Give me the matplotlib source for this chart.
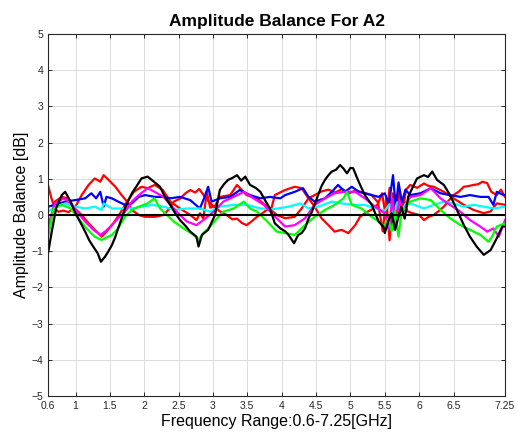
import numpy as np
import matplotlib
matplotlib.use('Agg')
import matplotlib.pyplot as plt

plt.rcParams['font.family'] = ['Liberation Sans', 'DejaVu Sans']

# values (GHz, dB)
f_black = [0.60, 0.66, 0.72, 0.80, 0.85, 0.92, 0.99, 1.07, 1.14, 1.20, 1.26, 1.32, 1.37, 1.43, 1.48, 1.53, 1.58, 1.62, 1.67, 1.72, 1.77, 1.82, 1.89, 1.96, 2.05, 2.14, 2.23, 2.30, 2.38, 2.45, 2.52, 2.60, 2.67, 2.76, 2.79, 2.84, 2.93, 3.03, 3.10, 3.16, 3.22, 3.28, 3.35, 3.41, 3.47, 3.54, 3.62, 3.69, 3.76, 3.83, 3.90, 3.98, 4.05, 4.10, 4.18, 4.24, 4.29, 4.34, 4.39, 4.44, 4.53, 4.58, 4.63, 4.68, 4.73, 4.79, 4.85, 4.90, 4.95, 5.00, 5.04, 5.12, 5.21, 5.31, 5.36, 5.41, 5.48, 5.50, 5.55, 5.60, 5.65, 5.70, 5.74, 5.79, 5.84, 5.91, 5.97, 6.07, 6.13, 6.19, 6.26, 6.36, 6.45, 6.55, 6.65, 6.74, 6.84, 6.94, 7.04, 7.13, 7.21, 7.25]
v_black = [-1.06, -0.40, 0.20, 0.55, 0.64, 0.40, 0.09, -0.20, -0.46, -0.70, -0.88, -1.05, -1.29, -1.15, -1.00, -0.83, -0.60, -0.37, -0.10, 0.18, 0.40, 0.60, 0.80, 1.01, 1.06, 0.92, 0.78, 0.50, 0.28, 0.05, -0.14, -0.30, -0.46, -0.60, -0.87, -0.55, -0.41, 0.00, 0.69, 0.85, 0.97, 1.02, 1.10, 0.95, 1.06, 0.83, 0.75, 0.64, 0.40, 0.18, -0.23, -0.37, -0.45, -0.55, -0.78, -0.55, -0.50, -0.37, -0.10, 0.09, 0.55, 0.80, 0.97, 1.10, 1.20, 1.25, 1.38, 1.28, 1.15, 1.30, 1.29, 0.92, 0.55, 0.28, 0.05, -0.18, -0.32, -0.50, -0.18, 0.05, -0.41, -0.05, 0.23, -0.10, 0.50, 0.78, 1.01, 1.10, 1.05, 1.20, 0.97, 0.83, 0.55, 0.14, -0.28, -0.60, -0.88, -1.10, -0.97, -0.64, -0.32, -0.32]

f_redA = [0.60, 0.65, 0.70, 0.75, 0.82, 0.90, 0.99, 1.09, 1.19, 1.28, 1.36, 1.41, 1.48, 1.58, 1.67, 1.75, 1.82, 1.92, 2.01, 2.16, 2.28, 2.38, 2.43, 2.52, 2.60, 2.67, 2.74, 2.80, 2.90, 3.00, 3.10, 3.20, 3.28, 3.35, 3.42, 3.49, 3.56, 3.64, 3.72, 3.79, 3.85, 3.90, 4.05, 4.19, 4.29, 4.39, 4.48, 4.58, 4.68, 4.77, 4.87, 4.97, 5.07, 5.14, 5.21, 5.31, 5.40, 5.46, 5.52, 5.57, 5.62, 5.67, 5.72, 5.78, 5.83, 5.90, 6.00, 6.07, 6.14, 6.21, 6.28, 6.36, 6.43, 6.50, 6.58, 6.65, 6.72, 6.79, 6.86, 6.92, 6.99, 7.05, 7.13, 7.19, 7.25]
v_redA = [0.83, 0.46, 0.18, 0.09, 0.12, 0.08, 0.20, 0.55, 0.83, 1.01, 0.92, 1.10, 0.97, 0.78, 0.55, 0.37, 0.14, 0.00, -0.05, -0.05, 0.00, 0.20, 0.37, 0.45, 0.60, 0.69, 0.62, 0.72, 0.45, 0.25, 0.10, 0.00, -0.12, -0.10, -0.22, -0.28, -0.18, -0.05, 0.05, 0.15, 0.18, 0.55, 0.69, 0.78, 0.74, 0.46, 0.23, -0.09, -0.28, -0.46, -0.41, -0.50, -0.28, -0.05, 0.05, 0.15, 0.30, 0.60, -0.10, 0.75, -0.40, 0.55, 0.00, 0.40, 0.10, 0.05, 0.00, -0.14, -0.05, 0.00, 0.10, 0.23, 0.40, 0.55, 0.65, 0.78, 0.80, 0.83, 0.85, 0.92, 0.88, 0.64, 0.55, 0.70, 0.50]

f_redB = [0.60, 0.70, 0.80, 0.89, 0.99, 1.09, 1.19, 1.28, 1.38, 1.45, 1.55, 1.65, 1.75, 1.85, 1.96, 2.05, 2.15, 2.27, 2.38, 2.52, 2.67, 2.76, 2.81, 2.86, 2.91, 2.96, 3.03, 3.10, 3.25, 3.35, 3.49, 3.64, 3.79, 3.93, 4.05, 4.19, 4.29, 4.39, 4.48, 4.58, 4.68, 4.78, 4.88, 4.98, 5.08, 5.18, 5.31, 5.40, 5.47, 5.52, 5.57, 5.62, 5.66, 5.71, 5.76, 5.81, 5.87, 5.97, 6.07, 6.14, 6.21, 6.36, 6.50, 6.65, 6.79, 6.94, 7.04, 7.13, 7.25]
v_redB = [-0.55, 0.37, 0.50, 0.46, 0.18, 0.00, -0.23, -0.41, -0.60, -0.46, -0.23, 0.05, 0.37, 0.64, 0.78, 0.74, 0.83, 0.69, 0.37, 0.18, 0.00, -0.14, 0.05, -0.10, 0.64, 0.20, 0.25, 0.50, 0.55, 0.83, 0.55, 0.46, 0.23, 0.00, -0.09, -0.05, 0.18, 0.46, 0.55, 0.65, 0.70, 0.62, 0.72, 0.60, 0.68, 0.62, 0.55, 0.35, -0.45, 0.45, -0.70, 0.60, -0.30, 0.70, 0.10, 0.70, 0.83, 0.75, 0.87, 0.80, 0.78, 0.64, 0.46, 0.28, 0.14, 0.05, 0.10, 0.32, 0.28]

f_blue = [0.60, 0.70, 0.85, 0.99, 1.14, 1.23, 1.30, 1.36, 1.41, 1.45, 1.53, 1.62, 1.72, 1.82, 1.92, 2.01, 2.16, 2.28, 2.38, 2.52, 2.67, 2.81, 2.87, 2.93, 2.98, 3.10, 3.25, 3.39, 3.54, 3.69, 3.83, 3.98, 4.05, 4.19, 4.31, 4.39, 4.48, 4.63, 4.73, 4.82, 4.92, 5.02, 5.12, 5.21, 5.31, 5.41, 5.50, 5.56, 5.62, 5.66, 5.70, 5.75, 5.80, 5.87, 6.02, 6.17, 6.31, 6.45, 6.60, 6.74, 6.89, 7.01, 7.08, 7.13, 7.23, 7.25]
v_blue = [0.23, 0.28, 0.37, 0.41, 0.46, 0.60, 0.46, 0.64, 0.23, 0.50, 0.46, 0.37, 0.28, 0.32, 0.50, 0.55, 0.50, 0.50, 0.46, 0.50, 0.41, 0.18, 0.46, 0.78, 0.37, 0.46, 0.50, 0.69, 0.55, 0.46, 0.50, 0.46, 0.55, 0.64, 0.74, 0.50, 0.37, 0.46, 0.64, 0.83, 0.64, 0.78, 0.64, 0.60, 0.55, 0.50, 0.60, 0.30, 1.10, 0.20, 0.90, 0.35, 0.70, 0.55, 0.60, 0.74, 0.60, 0.55, 0.50, 0.55, 0.50, 0.50, 0.28, 0.64, 0.55, 0.55]

f_cyan = [0.60, 0.70, 0.85, 0.99, 1.14, 1.28, 1.38, 1.41, 1.53, 1.67, 1.82, 1.96, 2.11, 2.28, 2.43, 2.62, 2.81, 2.96, 3.10, 3.30, 3.49, 3.69, 3.88, 4.10, 4.27, 4.39, 4.53, 4.73, 4.87, 5.07, 5.21, 5.36, 5.50, 5.57, 5.63, 5.68, 5.74, 5.80, 5.87, 6.07, 6.21, 6.36, 6.50, 6.65, 6.79, 6.94, 7.08, 7.25]
v_cyan = [0.09, 0.23, 0.32, 0.23, 0.18, 0.23, 0.14, 0.32, 0.18, 0.18, 0.18, 0.23, 0.28, 0.23, 0.14, 0.18, 0.18, 0.09, 0.23, 0.28, 0.28, 0.18, 0.16, 0.23, 0.32, 0.18, 0.23, 0.37, 0.32, 0.28, 0.28, 0.18, 0.12, 0.30, 0.00, 0.35, 0.10, 0.30, 0.32, 0.18, 0.28, 0.37, 0.32, 0.23, 0.28, 0.23, 0.18, 0.23]

f_mag = [0.60, 0.70, 0.83, 0.93, 1.04, 1.14, 1.26, 1.36, 1.43, 1.53, 1.62, 1.72, 1.82, 1.92, 2.05, 2.15, 2.28, 2.38, 2.52, 2.62, 2.76, 2.86, 3.01, 3.15, 3.30, 3.45, 3.59, 3.74, 3.88, 4.05, 4.19, 4.34, 4.48, 4.63, 4.77, 4.92, 5.07, 5.21, 5.36, 5.50, 5.56, 5.61, 5.66, 5.71, 5.77, 5.87, 6.02, 6.17, 6.31, 6.45, 6.60, 6.74, 6.89, 6.99, 7.08, 7.16, 7.25]
v_mag = [-0.30, 0.32, 0.46, 0.32, 0.05, -0.18, -0.41, -0.55, -0.46, -0.28, -0.09, 0.09, 0.37, 0.55, 0.74, 0.64, 0.50, 0.28, 0.00, -0.18, -0.28, -0.14, 0.09, 0.37, 0.50, 0.64, 0.46, 0.28, 0.00, -0.32, -0.28, -0.09, 0.28, 0.46, 0.60, 0.64, 0.64, 0.46, 0.23, 0.05, -0.40, 0.45, -0.35, 0.40, 0.10, 0.50, 0.55, 0.74, 0.46, 0.28, 0.09, -0.14, -0.32, -0.46, -0.37, -0.60, -0.14]

f_green = [0.60, 0.68, 0.80, 0.93, 1.04, 1.16, 1.28, 1.38, 1.43, 1.53, 1.62, 1.72, 1.82, 1.92, 2.05, 2.15, 2.23, 2.33, 2.43, 2.57, 2.72, 2.79, 2.86, 2.96, 3.06, 3.15, 3.30, 3.45, 3.54, 3.64, 3.79, 3.93, 4.05, 4.19, 4.34, 4.48, 4.63, 4.77, 4.90, 4.95, 5.02, 5.16, 5.31, 5.41, 5.50, 5.55, 5.60, 5.65, 5.70, 5.74, 5.80, 5.87, 6.02, 6.17, 6.31, 6.45, 6.60, 6.74, 6.89, 7.01, 7.06, 7.13, 7.25]
v_green = [-0.60, 0.18, 0.28, 0.18, -0.09, -0.37, -0.60, -0.69, -0.64, -0.55, -0.37, -0.05, 0.14, 0.23, 0.32, 0.46, 0.18, 0.00, -0.18, -0.37, -0.55, -0.69, -0.50, -0.32, -0.09, 0.09, 0.18, 0.37, 0.18, 0.09, -0.18, -0.46, -0.50, -0.55, -0.28, -0.05, 0.14, 0.28, 0.46, 0.64, 0.28, 0.18, -0.05, -0.18, -0.32, -0.10, -0.45, 0.10, -0.60, 0.05, 0.20, 0.37, 0.46, 0.41, 0.14, -0.09, -0.28, -0.41, -0.55, -0.74, -0.60, -0.32, -0.23]

series = [
    (f_redA, v_redA, '#ff0000'),
    (f_redB, v_redB, '#ff0000'),
    (f_blue, v_blue, '#0000ff'),
    (f_cyan, v_cyan, '#00ffff'),
    (f_mag, v_mag, '#ff00ff'),
    (f_green, v_green, '#00ff00'),
    (f_black, v_black, '#000000'),
]

xticks = [0.6, 1, 1.5, 2, 2.5, 3, 3.5, 4, 4.5, 5, 5.5, 6, 6.5, 7.25]
xticklabels = ['0.6', '1', '1.5', '2', '2.5', '3', '3.5', '4', '4.5', '5', '5.5', '6', '6.5', '7.25']
yticks = [-5, -4, -3, -2, -1, 0, 1, 2, 3, 4, 5]

fig = plt.figure(figsize=(5.18, 4.38), dpi=100)
ax = fig.add_axes([0.0927, 0.0959, 0.8823, 0.8265])

for f, v, c in series:
    ax.plot(f, v, color=c, linewidth=1.6)
ax.plot([0.6, 7.25], [0, 0], color='k', linewidth=1.5)

ax.set_xlim(0.6, 7.25)
ax.set_ylim(-5, 5)
ax.set_xticks(xticks)
ax.set_xticklabels(xticklabels)
ax.set_yticks(yticks)
ax.grid(True, color='#dcdcdc', linewidth=0.7)
ax.set_axisbelow(True)
ax.tick_params(direction='in', top=True, right=True, labelsize=7.5,
               colors='#262626', length=3, width=0.7)
for s in ax.spines.values():
    s.set_color('#262626')
    s.set_linewidth(0.8)

ax.set_xlabel('Frequency Range:0.6-7.25[GHz]', fontsize=11.5, labelpad=2)
ax.set_ylabel('Amplitude Balance [dB]', fontsize=11.5, labelpad=2)
ax.set_title('Amplitude Balance For A2', fontsize=12.5, fontweight='bold', pad=6)

fig.savefig('out.png', dpi=100)
